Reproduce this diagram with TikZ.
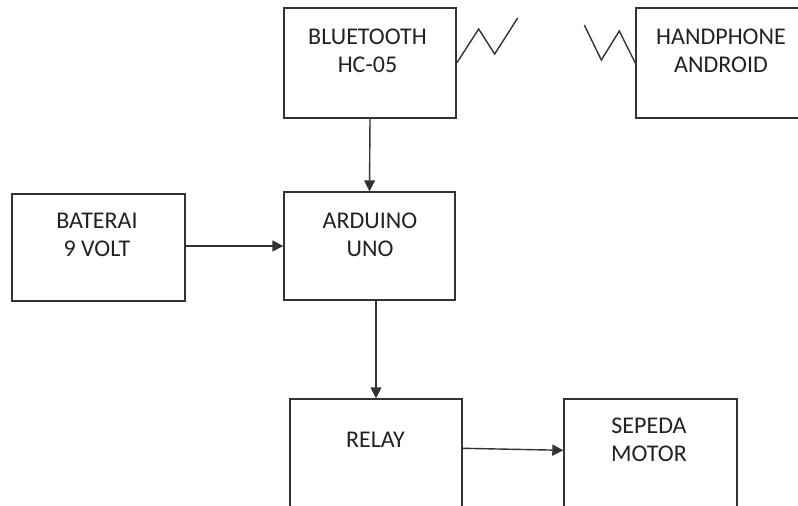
\documentclass[tikz,border=0pt]{standalone}
\usepackage{fontspec}
\setmainfont{Carlito}
\usetikzlibrary{arrows.meta,calc}
\definecolor{ln}{HTML}{333333}
\definecolor{tx}{HTML}{222222}
\begin{document}
\begin{tikzpicture}[x=1pt,y=-1pt,
  box/.style={draw=ln,line width=1.4pt,rectangle,inner sep=0pt},
  lbl/.style={text=tx,align=center,inner sep=0pt,font=\fontsize{24}{28}\selectfont},
  arr/.style={draw=ln,line width=1.4pt,-{Triangle[length=11pt,width=11pt]}},
  zz/.style={draw=ln,line width=1.4pt}]
\useasboundingbox (0,0) rectangle (798,506);
\clip (0,0) rectangle (798,506);
\fill[white] (0,0) rectangle (798,506);
% boxes
\node[box,minimum width=172pt,minimum height=110pt] (bt) at (370,63) {};
\node[box,minimum width=172pt,minimum height=110pt] (hp) at (722,63) {};
\node[box,minimum width=171pt,minimum height=108pt] (ard) at (369.5,246) {};
\node[box,minimum width=173pt,minimum height=107pt] (bat) at (98.5,247.5) {};
\node[box,minimum width=172pt,minimum height=140pt] (rel) at (376,469) {};
\node[box,minimum width=173pt,minimum height=140pt] (sep) at (650.5,469) {};
% labels
\node[lbl] (tbt) at (367.5,51) {BLUETOOTH\\HC-05};
\node[lbl] (thp) at (721,51) {HANDPHONE\\ANDROID};
\node[lbl] (tard) at (370,235) {ARDUINO\\UNO};
\node[lbl] (tbat) at (97,235) {BATERAI\\9 VOLT};
\node[lbl] (trel) at (375.5,440) {RELAY};
\node[lbl] (tsep) at (649,440) {SEPEDA\\MOTOR};
% connectors
\draw[arr] (bt.south) -- (ard.north);
\draw[arr] (bat.east |- ard.west) -- (ard.west);
\draw[arr] (ard.south -| rel.north) -- (rel.north);
\draw[arr] ($(rel.north east)+(0,50)$) -- ($(sep.north west)+(0,52)$);
% wireless zigzags
\draw[zz] (bt.east) -- ++(22,-34) -- ++(16,25) -- ++(23,-36);
\draw[zz] (hp.west) -- ++(-16,-32) -- ++(-18,29) -- ++(-17,-35);
\end{tikzpicture}
\end{document}
